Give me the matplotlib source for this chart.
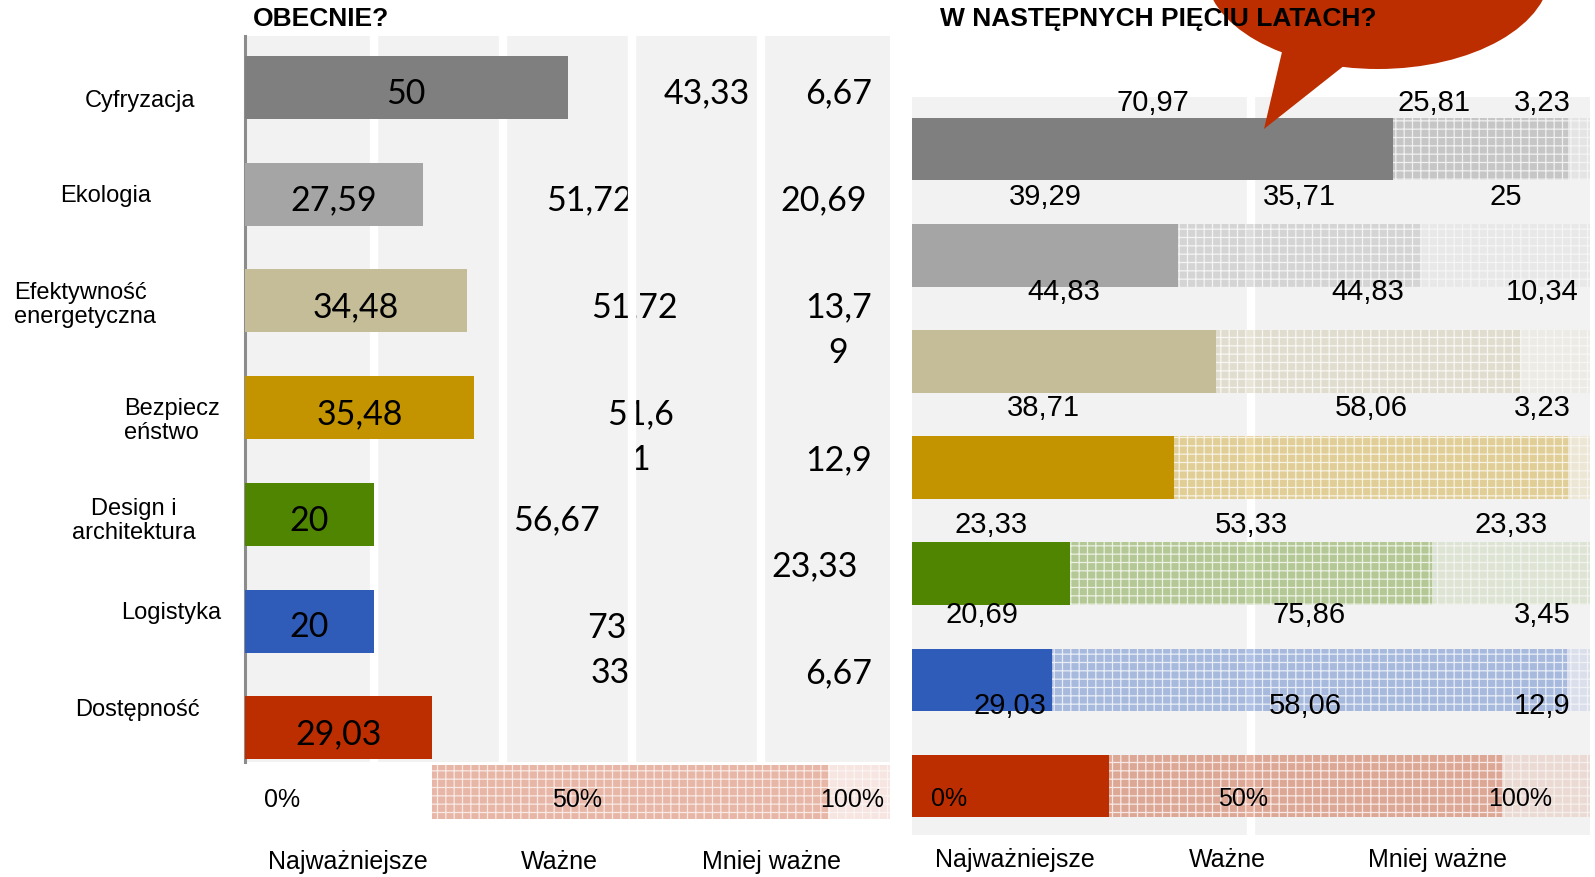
import matplotlib
matplotlib.use('Agg')
import matplotlib.pyplot as plt
from matplotlib.colors import to_rgba
from matplotlib.patches import Ellipse, Polygon

# --- data -------------------------------------------------------------
categories = ['Cyfryzacja', 'Ekologia', 'Efektywność\nenergetyczna', 'Bezpiecz\neństwo',
              'Design i\narchitektura', 'Logistyka', 'Dostępność']
colors = ['#7f7f7f', '#a5a5a5', '#c4bd97', '#c39400', '#4f8500', '#2f5cb9', '#bc2e00']

now_top = [50, 27.59, 34.48, 35.48, 20, 20, 29.03]
now_mid = [43.33, 51.72, 51.72, 51.61, 56.67, 73.33, 61.29]
now_low = [6.67, 20.69, 13.79, 12.9, 23.33, 6.67, 9.68]

future_top = [70.97, 39.29, 44.83, 38.71, 23.33, 20.69, 29.03]
future_mid = [25.81, 35.71, 44.83, 58.06, 53.33, 75.86, 58.06]
future_low = [3.23, 25, 10.34, 3.23, 23.33, 3.45, 12.9]

levels = ['Najważniejsze', 'Ważne', 'Mniej ważne']
tick_labels = ['0%', '50%', '100%']

W, H = 1595, 878
plt.rcParams['font.family'] = ['Liberation Sans', 'DejaVu Sans']
plt.rcParams['hatch.linewidth'] = 0.9


def box(x0, y0, x1, y1):
    return [x0 / W, 1 - y1 / H, (x1 - x0) / W, (y1 - y0) / H]


def fpos(x, y):
    return x / W, 1 - y / H


def fmt(v):
    return f'{v:g}'.replace('.', ',')


fig = plt.figure(figsize=(W / 100, H / 100), dpi=100)
rows = list(range(len(categories)))
bar_h = 0.59

# ---------------- left panel: OBECNIE? ----------------
ax1 = fig.add_axes(box(245, 37, 890, 763))
ax1.set_facecolor('#f2f2f2')
ax1.set_xlim(0, 100)
ax1.set_ylim(6.32, -0.48)
for s in ['top', 'right', 'bottom']:
    ax1.spines[s].set_visible(False)
ax1.spines['left'].set_color('#8c8c8c')
ax1.spines['left'].set_linewidth(2.2)
ax1.set_xticks([])
ax1.set_yticks([])
# white gridlines sit above the loose labels but below the bars
for x in (20, 40, 60, 80):
    ax1.axvline(x, color='white', lw=6, zorder=2.5)

ax1.barh(rows, now_top, height=bar_h, color=colors, zorder=3)

# the last row's other segments spill below the plot area
last = rows[-1]
ax1.barh(last + 0.6, now_mid[last], left=now_top[last], height=0.5,
         color=to_rgba(colors[last], 0.35), edgecolor=(1, 1, 1, 0.7), lw=0,
         hatch='++', clip_on=False, zorder=3)
ax1.barh(last + 0.6, now_low[last], left=now_top[last] + now_mid[last], height=0.5,
         color=to_rgba(colors[last], 0.12), edgecolor=(1, 1, 1, 0.6), lw=0,
         hatch='++', clip_on=False, zorder=3)

wrap_at = {(2, 2): 4, (3, 1): 4, (5, 1): 3}
shift_down = {(3, 2), (4, 2), (5, 2)}
line_step = 0.43
dy = 0.05
num_font = dict(fontsize=24.5, family=['Lato', 'DejaVu Sans'], color='black')

for i in rows:
    ax1.text(now_top[i] / 2, i + dy, fmt(now_top[i]), ha='center', va='center',
             zorder=4, **num_font)
    starts = [now_top[i], now_top[i] + now_mid[i]]
    for k, (st, v) in enumerate(zip(starts, [now_mid[i], now_low[i]]), start=1):
        if i == last:
            continue
        xc = min(st + v / 2, 92)
        s = fmt(v)
        lines = [s]
        if (i, k) in wrap_at:
            n = wrap_at[(i, k)]
            lines = [s[:n], s[n:]]
        y0 = i + dy + (line_step if (i, k) in shift_down else 0)
        for j, ln in enumerate(lines):
            ax1.text(xc, y0 + j * line_step, ln, ha='center', va='center',
                     zorder=2, **num_font)

# ---------------- right panel: W NASTĘPNYCH PIĘCIU LATACH? ----------------
ax2 = fig.add_axes(box(912, 98, 1590, 836))
ax2.set_facecolor('#f2f2f2')
ax2.set_xlim(0, 100)
ax2.set_ylim(6.46, -0.49)
for s in ax2.spines.values():
    s.set_visible(False)
ax2.set_xticks([])
ax2.set_yticks([])
ax2.axvline(50, color='white', lw=6, zorder=1)

mid_left = future_top
low_left = [a + b for a, b in zip(future_top, future_mid)]
ax2.barh(rows, future_top, height=bar_h, color=colors, zorder=3)
ax2.barh(rows, future_mid, left=mid_left, height=bar_h,
         color=[to_rgba(c, 0.38) for c in colors], edgecolor=(1, 1, 1, 0.75),
         lw=0, hatch='++', zorder=3)
ax2.barh(rows, future_low, left=low_left, height=bar_h,
         color=[to_rgba(c, 0.12) for c in colors], edgecolor=(1, 1, 1, 0.6),
         lw=0, hatch='++', zorder=3)

# labels float above each bar; they are kept inside the plot on the right
label_offset = [-0.44, -0.56, -0.66, -0.57, -0.47, -0.62, -0.76]
x_cap = [61, 77, 93]
for i in rows:
    segs = [(0, future_top[i]), (mid_left[i], future_mid[i]), (low_left[i], future_low[i])]
    for (st, v), cap in zip(segs, x_cap):
        ax2.text(min(st + v / 2, cap), i + label_offset[i], fmt(v), ha='center',
                 va='center', fontsize=21, zorder=4)

# ---------------- speech bubble ----------------
ov = fig.add_axes([0, 0, 1, 1], zorder=5)
ov.set_xlim(0, W)
ov.set_ylim(H, 0)
ov.axis('off')
ov.patch.set_alpha(0)
ov.add_patch(Ellipse((1378, -28), 345, 196, color='#bc2e00', lw=0))
ov.add_patch(Polygon([(1285, 40), (1264, 130), (1350, 62)], closed=True,
                     color='#bc2e00', lw=0))

# ---------------- texts ----------------
fig.text(*fpos(253, 19), 'OBECNIE?', fontsize=19, fontweight='bold',
         ha='left', va='center', zorder=10)
fig.text(*fpos(940, 19), 'W NASTĘPNYCH PIĘCIU LATACH?', fontsize=19,
         fontweight='bold', ha='left', va='center', zorder=10)

name_pos = [(195, 101, 'right'), (151, 196, 'right'), (14, 305, 'left'),
            (124, 421, 'left'), (134, 521, 'center'), (221, 613, 'right'),
            (200, 710, 'right')]
for name, (x, y, ha) in zip(categories, name_pos):
    fig.text(*fpos(x, y), name, fontsize=17, ha=ha, va='center',
             multialignment=ha, linespacing=1.1)

for lab, x in zip(tick_labels, [282, 577, 852]):
    fig.text(*fpos(x, 800), lab, fontsize=18, ha='center', va='center')
for lab, x in zip(tick_labels, [949, 1243, 1520]):
    fig.text(*fpos(x, 799), lab, fontsize=18, ha='center', va='center')
for lab, x in zip(levels, [348, 559, 771]):
    fig.text(*fpos(x, 862), lab, fontsize=18, ha='center', va='center')
for lab, x in zip(levels, [1015, 1227, 1438]):
    fig.text(*fpos(x, 860), lab, fontsize=18, ha='center', va='center')

fig.savefig('out.png', dpi=100)
